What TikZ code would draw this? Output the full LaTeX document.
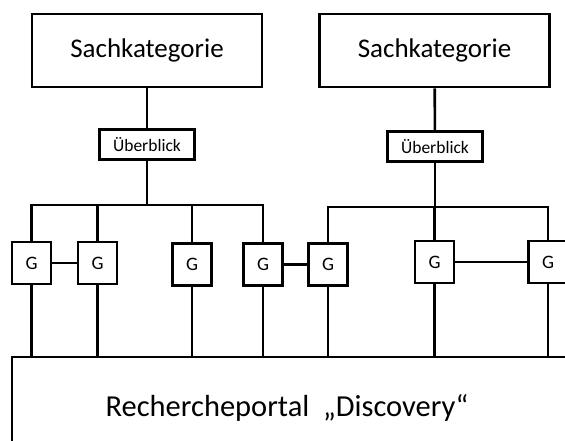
\documentclass[tikz,border=0pt]{standalone}
\usepackage{fontspec}
\setmainfont{Carlito}
\begin{document}
\begin{tikzpicture}[x=1pt,y=-1pt,line width=2.6pt,
  base/.style={draw=black,rectangle,inner sep=0pt,text=black},
  sbox/.style={base,minimum width=230pt,minimum height=73pt,font=\fontsize{27}{30}\selectfont},
  ubox/.style={base,minimum width=95pt,minimum height=30pt,font=\fontsize{17.5}{20}\selectfont},
  gbox/.style={base,minimum width=39pt,minimum height=42pt,font=\fontsize{19}{22}\selectfont},
  pbox/.style={base,minimum width=558pt,minimum height=106pt},
  conn/.style={draw=black,line width=2.6pt}]
\clip (0,0) rectangle (565,441);
\fill[white] (0,0) rectangle (565,441);
% top boxes
\node[sbox] (s1) at (147,50.5) {Sachkategorie};
\node[sbox] (s2) at (434.5,50.5) {Sachkategorie};
\node[ubox] (u1) at (147,144.5) {Überblick};
\node[ubox] (u2) at (435,146.5) {Überblick};
% G boxes
\node[gbox] (g1) at (31.5,263) {G};
\node[gbox] (g2) at (97.5,263) {G};
\node[gbox] (g3) at (192,264.5) {G};
\node[gbox] (g4) at (263,264.5) {G};
\node[gbox] (g5) at (328,264.5) {G};
\node[gbox] (g6) at (434.5,262) {G};
\node[gbox] (g7) at (548,262) {G};
% portal
\node[pbox] (p) at (291,410) {};
\node[font=\fontsize{30.5}{34}\selectfont,text=black] (pt) at (287,408) {Rechercheportal\ \ „Discovery“};
% bus coordinates
\coordinate (b1) at (147,205);
\coordinate (b2) at (435,207);
% connectors
\draw[conn] (s1) -- (u1);
\draw[conn] (s2) -- (u2);
\draw[conn] (u1) -- (b1);
\draw[conn] (u2) -- (b2);
\draw[conn] (g1.north) -- (g1.north |- b1) -- (g4.north |- b1) -- (g4.north);
\draw[conn] (g2.north) -- (g2.north |- b1);
\draw[conn] (g3.north) -- (g3.north |- b1);
\draw[conn] (g5.north) -- (g5.north |- b2) -- (g7.north |- b2) -- (g7.north);
\draw[conn] (g6.north) -- (g6.north |- b2);
\draw[conn] (g1) -- (g2);
\draw[conn] (g4) -- (g5);
\draw[conn] (g6) -- (g7);
\foreach \g in {g1,g2,g3,g4,g5,g6,g7}
  \draw[conn] (\g.south) -- (\g.south |- p.north);
\end{tikzpicture}
\end{document}
